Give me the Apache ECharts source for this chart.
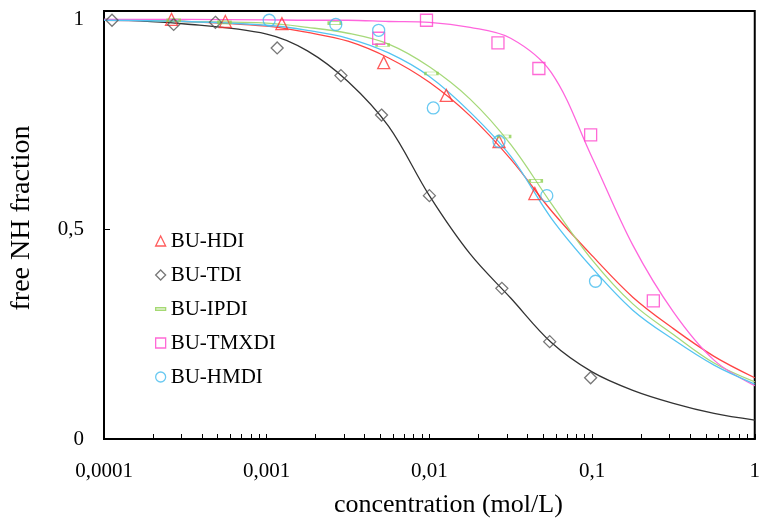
<!DOCTYPE html>
<html>
<head>
<meta charset="utf-8">
<script src="https://cdn.jsdelivr.net/npm/echarts@6/dist/echarts.min.js"></script>
<style>html,body{margin:0;padding:0;background:#fff}#c{width:763px;height:523px}</style>
</head>
<body>
<div id="c"></div>
<script>
// ---- data ----
var seriesNames = ['BU-HDI', 'BU-TDI', 'BU-IPDI', 'BU-TMXDI', 'BU-HMDI'];
var xTickLabels = ['0,0001', '0,001', '0,01', '0,1', '1'];
var yTickLabels = ['0', '0,5', '1'];

var hdiX = [0.00026, 0.000557, 0.00124, 0.00524, 0.0127, 0.0268, 0.0445];
var hdiY = [1.0, 0.995, 0.99, 0.897, 0.819, 0.709, 0.585];
var tdiX = [0.000112, 0.000268, 0.000484, 0.00116, 0.00286, 0.00508, 0.0100, 0.0279, 0.0549, 0.098];
var tdiY = [0.998, 0.988, 0.993, 0.932, 0.866, 0.772, 0.580, 0.359, 0.232, 0.146];
var ipdiX = [0.000268, 0.00055, 0.00262, 0.00516, 0.0103, 0.0288, 0.0451];
var ipdiY = [0.998, 0.993, 0.991, 0.939, 0.871, 0.721, 0.615];
var tmxdiX = [0.00488, 0.0096, 0.0264, 0.0471, 0.098, 0.238];
var tmxdiY = [0.955, 0.998, 0.944, 0.883, 0.725, 0.329];
var hmdiX = [0.001036, 0.00266, 0.00488, 0.01057, 0.0268, 0.0527, 0.105];
var hmdiY = [0.998, 0.988, 0.974, 0.789, 0.709, 0.580, 0.376];

// fitted curves
var fitX = [0.0001, 0.000316, 0.001, 0.00178, 0.00316, 0.00562, 0.01, 0.0178, 0.0316, 0.0562, 0.1, 0.178, 0.316, 0.562, 1];
var hdiFit = [0.998, 0.995, 0.984, 0.969, 0.948, 0.908, 0.850, 0.770, 0.667, 0.544, 0.437, 0.338, 0.263, 0.197, 0.146];
var tdiFit = [1.0, 0.989, 0.965, 0.925, 0.852, 0.745, 0.580, 0.441, 0.336, 0.230, 0.160, 0.116, 0.085, 0.061, 0.045];
var ipdiFit = [1.0, 0.995, 0.991, 0.981, 0.967, 0.941, 0.887, 0.810, 0.702, 0.561, 0.427, 0.322, 0.249, 0.181, 0.136];
var tmxdiFit = [1.0, 1.0, 0.999, 0.998, 0.998, 0.995, 0.993, 0.981, 0.955, 0.873, 0.671, 0.462, 0.303, 0.188, 0.127];
var hmdiFit = [0.998, 0.995, 0.986, 0.974, 0.955, 0.920, 0.864, 0.779, 0.674, 0.526, 0.408, 0.307, 0.237, 0.176, 0.131];

var minorTickValues = [];
[0.0001, 0.001, 0.01, 0.1].forEach(function (d) {
  for (var k = 1; k <= 9; k++) minorTickValues.push(+(d * k).toPrecision(3));
});
minorTickValues.push(1);

function pairs(xs, ys) { return xs.map(function (x, i) { return [x, ys[i]]; }); }

var colors = {
  hdi: '#ff3333', tdi: '#555555', ipdi: '#8fcf50', tmxdi: '#ff44cc', hmdi: '#44bbee'
};
var lineColors = {
  hdi: '#ff4444', tdi: '#333333', ipdi: '#a6d97a', tmxdi: '#ff66dd', hmdi: '#55c4f2'
};

var FONT = 'Liberation Serif';

function scatter(name, data, symbol, size, color) {
  return {
    type: 'scatter', name: name, data: data, symbol: symbol, symbolSize: size, z: 5,
    itemStyle: { color: 'rgba(255,255,255,0)', borderColor: color, borderWidth: 1.3 }
  };
}
function line(name, data, color) {
  return {
    type: 'line', name: name, data: data, symbol: 'none', smooth: 0.35, z: 3,
    lineStyle: { color: color, width: 1.3 }
  };
}

var chart = echarts.init(document.getElementById('c'), null, { renderer: 'canvas' });
chart.setOption({
  animation: false,
  backgroundColor: '#fff',
  grid: { left: 104, right: 5, top: 11, bottom: 79, show: true, borderColor: '#000', borderWidth: 2, backgroundColor: 'transparent' },
  legend: {
    orient: 'vertical', left: 150, top: 225, itemWidth: 10, itemHeight: 10, itemGap: 12,
    textStyle: { fontFamily: FONT, fontSize: 21, color: '#000', lineHeight: 22 },
    data: [
      { name: seriesNames[0], icon: 'triangle', itemStyle: { color: 'rgba(255,255,255,0)', borderColor: colors.hdi, borderWidth: 1.3 } },
      { name: seriesNames[1], icon: 'diamond', itemStyle: { color: 'rgba(255,255,255,0)', borderColor: colors.tdi, borderWidth: 1.3 } },
      { name: seriesNames[2], icon: 'path://M0,0 L12,0 L12,3 L0,3 Z', itemStyle: { color: 'rgba(255,255,255,0)', borderColor: colors.ipdi, borderWidth: 1.3 } },
      { name: seriesNames[3], icon: 'rect', itemStyle: { color: 'rgba(255,255,255,0)', borderColor: colors.tmxdi, borderWidth: 1.3 } },
      { name: seriesNames[4], icon: 'circle', itemStyle: { color: 'rgba(255,255,255,0)', borderColor: colors.hmdi, borderWidth: 1.3 } }
    ]
  },
  xAxis: {
    type: 'log', logBase: 10, min: 0.0001, max: 1,
    name: 'concentration (mol/L)', nameLocation: 'middle', nameGap: 53,
    nameTextStyle: { fontFamily: FONT, fontSize: 26, color: '#000', padding: [0, 0, 0, 38] },
    axisLine: { lineStyle: { color: '#000', width: 2 } },
    axisTick: { inside: true, length: 5, lineStyle: { color: '#000', width: 1 }, customValues: minorTickValues },
    axisLabel: {
      margin: 22, fontFamily: FONT, fontSize: 21, color: '#000',
      formatter: function (v) { return xTickLabels[Math.round(Math.log10(v)) + 4] || ''; }
    },
    splitLine: { show: false }
  },
  yAxis: {
    type: 'value', min: 0, max: 1.02, interval: 0.5,
    name: 'free NH fraction', nameLocation: 'middle', nameGap: 68,
    nameTextStyle: { fontFamily: FONT, fontSize: 28, color: '#000', padding: [0, 0, 0, 14] },
    axisLine: { show: true, lineStyle: { color: '#000', width: 2 } },
    axisTick: { show: true, inside: true, length: 6, lineStyle: { color: '#000', width: 1 } },
    axisLabel: {
      margin: 20, fontFamily: FONT, fontSize: 21, color: '#000',
      formatter: function (v) {
        var i = Math.round(v / 0.5);
        return Math.abs(v - i * 0.5) < 1e-6 ? (yTickLabels[i] || '') : '';
      }
    },
    splitLine: { show: false }
  },
  series: [
    line('fit HDI', pairs(fitX, hdiFit), lineColors.hdi),
    line('fit TDI', pairs(fitX, tdiFit), lineColors.tdi),
    line('fit IPDI', pairs(fitX, ipdiFit), lineColors.ipdi),
    line('fit TMXDI', pairs(fitX, tmxdiFit), lineColors.tmxdi),
    line('fit HMDI', pairs(fitX, hmdiFit), lineColors.hmdi),
    scatter(seriesNames[0], pairs(hdiX, hdiY), 'triangle', 12, colors.hdi),
    scatter(seriesNames[1], pairs(tdiX, tdiY), 'diamond', 12, colors.tdi),
    scatter(seriesNames[2], pairs(ipdiX, ipdiY), 'rect', [12, 3], colors.ipdi),
    scatter(seriesNames[3], pairs(tmxdiX, tmxdiY), 'rect', 12, colors.tmxdi),
    scatter(seriesNames[4], pairs(hmdiX, hmdiY), 'circle', 12, colors.hmdi)
  ]
});
</script>
</body>
</html>
